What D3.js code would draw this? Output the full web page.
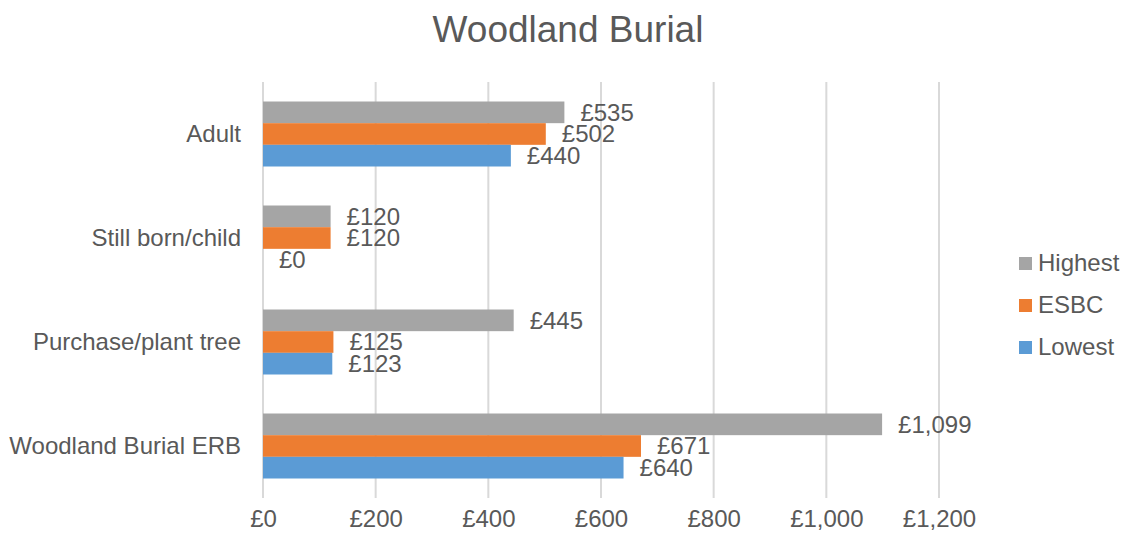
<!DOCTYPE html>
<html>
<head>
<meta charset="utf-8">
<script src="https://cdn.jsdelivr.net/npm/d3@7"></script>
<style>
	body { margin: 0; background: #fff; }
	text { font-family: "Liberation Sans", Arial, sans-serif; fill: #595959; }
</style>
</head>
<body>
<svg id="chart" width="1130" height="539"></svg>
<script>
	"use strict";

	var categories = ["Adult", "Still born/child", "Purchase/plant tree", "Woodland Burial ERB"];
	var seriesNames = ["Highest", "ESBC", "Lowest"];
	var seriesColors = ["#A5A5A5", "#ED7D31", "#5B9BD5"];
	var highest = [535, 120, 445, 1099];
	var esbc = [502, 120, 125, 671];
	var lowest = [440, 0, 123, 640];
	var xTicks = [0, 200, 400, 600, 800, 1000, 1200];

	var seriesValues = [highest, esbc, lowest];

	var svg = d3.select("#chart");

	var x = d3.scaleLinear()
		.domain([0, 1200])
		.range([263, 939]);

	var y0 = d3.scaleBand()
		.domain(categories)
		.range([82, 498]);

	var y1 = d3.scaleBand()
		.domain(seriesNames)
		.range([0, y0.bandwidth()])
		.paddingOuter(0.9);

	var money = function (d) {
		return "£" + d3.format(",")(d);
	};

	// title
	svg.append("text")
		.attr("x", 568)
		.attr("y", 42)
		.attr("text-anchor", "middle")
		.style("font-size", "37px")
		.text("Woodland Burial");

	// gridlines
	svg.append("g").selectAll("line")
		.data(xTicks)
		.enter().append("line")
		.attr("x1", function (d) { return x(d); })
		.attr("x2", function (d) { return x(d); })
		.attr("y1", 82)
		.attr("y2", 498)
		.attr("stroke", "#D9D9D9")
		.attr("stroke-width", 2);

	// x axis labels
	var xAxis = svg.append("g")
		.attr("transform", "translate(0, 510)")
		.call(d3.axisBottom(x).tickValues(xTicks).tickFormat(money).tickSize(0).tickPadding(0));
	xAxis.select(".domain").remove();
	xAxis.selectAll("text")
		.attr("dy", "0.71em")
		.style("font-size", "24px")
		.style("fill", "#595959");

	// category labels
	var yAxis = svg.append("g")
		.attr("transform", "translate(241, 0)")
		.call(d3.axisLeft(y0).tickSize(0).tickPadding(0));
	yAxis.select(".domain").remove();
	yAxis.selectAll("text")
		.style("font-size", "24px")
		.style("fill", "#595959");

	// bars
	var rows = [];
	categories.forEach(function (c, i) {
		seriesNames.forEach(function (s, j) {
			rows.push({ cat: c, series: s, color: seriesColors[j], value: seriesValues[j][i] });
		});
	});

	var groups = svg.append("g").selectAll("g")
		.data(rows)
		.enter().append("g")
		.attr("transform", function (d) { return "translate(0," + (y0(d.cat) + y1(d.series)) + ")"; });

	groups.append("rect")
		.attr("x", x(0))
		.attr("y", 0)
		.attr("width", function (d) { return x(d.value) - x(0); })
		.attr("height", y1.bandwidth())
		.attr("fill", function (d) { return d.color; });

	groups.append("text")
		.attr("x", function (d) { return x(d.value) + 16; })
		.attr("y", y1.bandwidth() / 2)
		.attr("dy", "0.35em")
		.style("font-size", "24px")
		.text(function (d) { return money(d.value); });

	// legend
	var legend = svg.append("g").selectAll("g")
		.data(seriesNames)
		.enter().append("g")
		.attr("transform", function (d, i) { return "translate(1019," + (263 + i * 42) + ")"; });

	legend.append("rect")
		.attr("x", 0)
		.attr("y", -6)
		.attr("width", 13)
		.attr("height", 13)
		.attr("fill", function (d, i) { return seriesColors[i]; });

	legend.append("text")
		.attr("x", 19)
		.attr("y", 0)
		.attr("dy", "0.35em")
		.style("font-size", "24px")
		.text(function (d) { return d; });
</script>
</body>
</html>
